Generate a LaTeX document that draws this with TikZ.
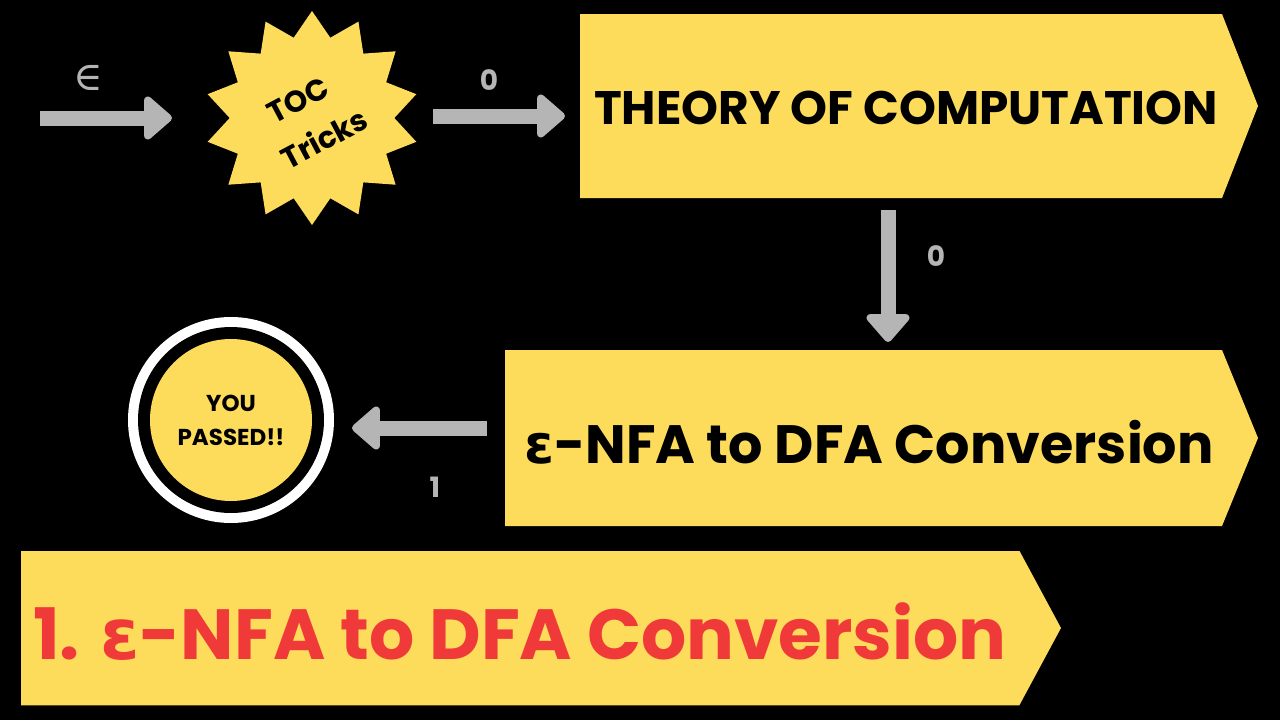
\documentclass[tikz,border=0pt]{standalone}
\usepackage{fontspec}
\setmainfont{Poppins}
\newfontfamily\greek{DejaVu Sans}
\newfontfamily\serifg{DejaVu Serif}
\usetikzlibrary{arrows.meta,shapes.geometric}
\definecolor{yel}{HTML}{FDDC5C}
\definecolor{gry}{HTML}{B5B5B5}
\definecolor{red1}{HTML}{F03A3A}
\tikzset{
  garrow/.style={draw=gry,line width=15pt,-{Triangle[length=30pt,width=50pt,round]}},
  lbl/.style={text=gry,font=\bfseries\fontsize{28}{30}\selectfont},
  toctext/.style={rotate=28,inner sep=0pt,font=\bfseries\fontsize{30}{30}\selectfont},
}
\begin{document}
\begin{tikzpicture}[x=1pt,y=-1pt]
\fill[black] (0,0) rectangle (1280,720);
\useasboundingbox (0,0) rectangle (1280,720);
% epsilon input
\node[text=gry,font=\serifg\fontsize{40}{40}\selectfont] (eps) at (88,78) {∈};
\coordinate (s0) at (40,118);
\coordinate (s1) at (172,118);
\draw[garrow] (s0) -- (s1);
% starburst
\node[star,star points=14,star point ratio=1.3,fill=yel,minimum size=214pt,inner sep=0pt] (toc) at (312,118) {};
\node[toctext] (toct1) at (298,100) {TOC};
\node[toctext] (toct2) at (324,138) {Tricks};
% arrow to theory
\coordinate (a0) at (433,116);
\coordinate (a1) at (565,116);
\draw[garrow] (a0) -- (a1);
\node[lbl] (l0) at (489,80) {0};
% box 1
\fill[yel] (580,14) -- (1222,14) -- (1258,106) -- (1222,198) -- (580,198) -- cycle;
\node[font=\bfseries\fontsize{47}{47}\selectfont] (t1) at (906,108) {THEORY OF COMPUTATION};
% down arrow
\coordinate (d0) at (888,210);
\coordinate (d1) at (888,342);
\draw[garrow] (d0) -- (d1);
\node[lbl] (l1) at (936,256) {0};
% box 2
\fill[yel] (505,350) -- (1222,350) -- (1258,438) -- (1222,526) -- (505,526) -- cycle;
\node[font=\bfseries\fontsize{54}{54}\selectfont] (t2) at (869,442) {{\greek ε}-NFA to DFA Conversion};
% left arrow
\coordinate (b0) at (487,428);
\coordinate (b1) at (352,428);
\draw[garrow] (b0) -- (b1);
\node[lbl] (l2) at (435,487) {1};
% circle
\node[circle,fill=white,minimum size=206pt] (c0) at (231,420) {};
\node[circle,fill=black,minimum size=186pt] (c1) at (231,420) {};
\node[circle,fill=yel,minimum size=162pt,align=center,font=\bfseries\fontsize{23}{34}\selectfont] (c2) at (231,420) {YOU\\PASSED!!};
% bottom banner
\filldraw[fill=yel,draw=black,line width=1.5pt] (20,550) -- (1020,550) -- (1062,628) -- (1020,706) -- (20,706) -- cycle;
\node[text=red1,font=\bfseries\fontsize{71}{71}\selectfont] (t3) at (520,632) {1. {\greek ε}-NFA to DFA Conversion};
\end{tikzpicture}
\end{document}
